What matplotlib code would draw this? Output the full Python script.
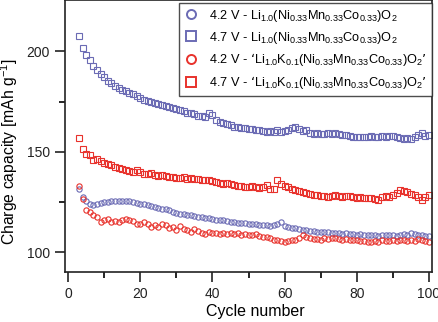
import matplotlib
matplotlib.use("Agg")
import matplotlib.pyplot as plt
import numpy as np

plt.rcParams['font.family'] = ['Liberation Sans', 'DejaVu Sans']
plt.rcParams['mathtext.default'] = 'regular'

# cycle numbers 3..100
cycles = np.arange(3, 101)

# 4.7 V - Li1.0(NMC)O2
li_47 = [207.5, 201.5, 198.3, 195.5, 192.7, 190.5, 188.9, 187.0, 185.3, 184.4,
         182.9, 181.8, 180.9, 180.1, 179.3, 178.6, 177.6, 176.6, 176.0, 175.4,
         174.9, 174.3, 173.8, 173.2, 172.8, 172.2, 171.6, 171.2, 170.8, 170.3,
         169.5, 169.2, 168.6, 167.8, 167.9, 167.2, 169.3, 168.4, 165.8, 164.8,
         164.3, 163.6, 163.5, 162.4, 162.1, 161.6, 162.0, 161.1, 161.4, 160.8,
         160.6, 160.2, 159.9, 160.4, 159.7, 160.6, 159.8, 160.5, 160.9, 161.6,
         162.1, 161.2, 160.3, 160.6, 159.5, 158.7, 159.1, 159.0, 158.9, 159.2,
         158.6, 159.3, 158.8, 158.4, 158.2, 157.7, 157.4, 157.5, 157.3, 157.6,
         157.4, 157.8, 157.6, 157.2, 158.0, 157.6, 158.1, 157.7, 157.4, 156.8,
         156.6, 156.9, 156.5, 157.2, 158.4, 159.1, 158.0, 158.3]

# 4.7 V - 'Li1.0K0.1(NMC)O2'
k_47 = [156.9, 151.2, 149.1, 148.6, 146.1, 146.6, 145.4, 144.4, 144.1, 143.3,
        142.4, 141.9, 141.6, 141.1, 140.4, 140.0, 140.8, 139.7, 139.1, 138.8,
        139.6, 138.3, 138.0, 138.6, 137.8, 137.4, 137.5, 137.2, 136.9, 137.3,
        136.7, 136.9, 136.4, 136.6, 136.0, 135.8, 136.2, 135.3, 134.9, 134.4,
        134.2, 134.5, 133.8, 133.3, 132.8, 133.1, 132.6, 132.4, 132.8, 132.5,
        132.2, 132.6, 133.3, 131.7, 131.4, 135.8, 134.2, 132.8, 132.5, 131.4,
        130.8, 130.6, 130.0, 129.7, 129.2, 128.6, 128.3, 127.9, 128.2, 127.6,
        128.1, 128.4, 127.8, 127.3, 127.9, 128.1, 127.5, 127.2, 127.6, 127.0,
        126.8, 127.2, 126.5, 126.2, 127.3, 127.9, 127.6, 128.3, 129.5, 131.2,
        130.4, 130.0, 129.2, 128.4, 127.6, 126.2, 127.3, 128.4]

# 4.2 V - Li1.0(NMC)O2
li_42 = [131.3, 127.5, 125.4, 124.2, 123.7, 124.0, 124.7, 125.0, 125.2, 125.4,
         125.5, 125.5, 125.3, 125.5, 125.3, 125.0, 124.5, 124.2, 123.8, 123.4,
         123.0, 122.3, 121.8, 121.7, 121.3, 120.8, 120.1, 119.6, 119.3, 118.9,
         118.6, 118.4, 118.2, 117.8, 117.6, 117.3, 117.0, 116.8, 116.3, 115.9,
         115.9, 115.6, 115.3, 115.1, 114.6, 114.5, 114.4, 114.0, 113.9, 113.9,
         113.6, 113.5, 113.8, 113.1, 113.4, 114.1, 115.1, 113.2, 112.6, 112.3,
         112.0, 111.8, 111.3, 111.0, 110.8, 110.5, 110.3, 110.1, 109.9, 110.0,
         109.7, 109.6, 109.6, 109.3, 109.4, 109.1, 109.0, 108.8, 109.2, 108.7,
         108.8, 108.5, 108.6, 108.3, 108.6, 108.5, 108.4, 108.7, 108.3, 108.8,
         109.0, 108.6, 109.6, 109.3, 108.8, 108.5, 108.2, 108.0]

# 4.2 V - 'Li1.0K0.1(NMC)O2'
k_42 = [132.8, 126.4, 120.9, 120.0, 118.8, 117.6, 115.1, 115.9, 116.8, 115.1,
        115.6, 115.3, 115.9, 116.4, 115.9, 115.4, 114.3, 114.0, 115.1, 114.0,
        112.6, 113.4, 112.6, 114.1, 113.4, 112.3, 112.6, 111.3, 112.9, 111.6,
        111.0, 110.1, 111.4, 110.4, 109.8, 109.3, 110.3, 109.5, 109.8, 109.0,
        109.6, 109.2, 109.6, 109.1, 109.5, 108.6, 109.3, 108.8, 108.5, 108.9,
        108.2, 107.8, 107.4, 106.9, 106.3, 106.0, 105.4, 105.1, 105.6, 106.2,
        106.0, 107.3, 108.5, 107.6, 107.0, 106.5, 106.8, 106.3, 107.0, 106.4,
        107.1, 107.3, 106.6, 106.2, 106.7, 106.0, 105.9, 106.0, 105.5, 105.8,
        105.2, 105.1, 105.6, 105.3, 105.9, 105.4, 105.6, 106.0, 105.4, 106.2,
        106.0, 105.6, 106.3, 105.8, 106.5, 106.3, 105.7, 105.1]

nmc = "(Ni$_{0.33}$Mn$_{0.33}$Co$_{0.33}$)O$_2$"
labels = ["4.2 V - Li$_{1.0}$" + nmc,
          "4.7 V - Li$_{1.0}$" + nmc,
          "4.2 V - \u2018Li$_{1.0}$K$_{0.1}$" + nmc + "\u2019",
          "4.7 V - \u2018Li$_{1.0}$K$_{0.1}$" + nmc + "\u2019"]

blue = '#6b6bb4'
red = '#e8322c'

fig = plt.figure(figsize=(4.39, 3.22), dpi=100)
ax = fig.add_axes([0.147, 0.154, 0.836, 0.846])

series = [(li_42, 'o', blue), (li_47, 's', blue), (k_42, 'o', red), (k_47, 's', red)]
handles = []
for (vals, mk, col), lab in zip(series, labels):
    ax.plot(cycles, vals, linestyle='none', marker=mk, markersize=3.8,
            markerfacecolor='none', markeredgecolor=col, markeredgewidth=0.8)
    h, = ax.plot([], [], linestyle='none', marker=mk, markersize=6.5,
                 markerfacecolor='none', markeredgecolor=col, markeredgewidth=1.4,
                 label=lab)
    handles.append(h)

ax.set_xlim(-1, 100.7)
ax.set_ylim(90, 225.5)
ax.set_xticks([0, 20, 40, 60, 80, 100])
ax.set_xticks([10, 30, 50, 70, 90], minor=True)
ax.set_yticks([100, 150, 200])
ax.set_yticks([125, 175], minor=True)
ax.tick_params(which='major', direction='out', length=7, width=1.2, labelsize=10, colors='#222222')
ax.tick_params(which='minor', direction='out', length=4, width=1.2)
for s in ax.spines.values():
    s.set_linewidth(1.2)
    s.set_color('#222222')

ax.set_xlabel("Cycle number", fontsize=11.5)
ax.xaxis.set_label_coords(0.519, -0.117)
ax.set_ylabel("Charge capacity [mAh g$^{-1}$]", fontsize=11.3)
ax.yaxis.set_label_coords(-0.12, 0.442)

leg = ax.legend(handles=handles, loc='upper right', bbox_to_anchor=(1.0, 0.99),
                borderaxespad=0, fontsize=9.2, frameon=True, fancybox=False,
                edgecolor='#222222', handlelength=1.0, handletextpad=0.9,
                labelspacing=0.45, borderpad=0.4)
leg.get_frame().set_linewidth(1.0)

fig.savefig("out.png", dpi=100)
